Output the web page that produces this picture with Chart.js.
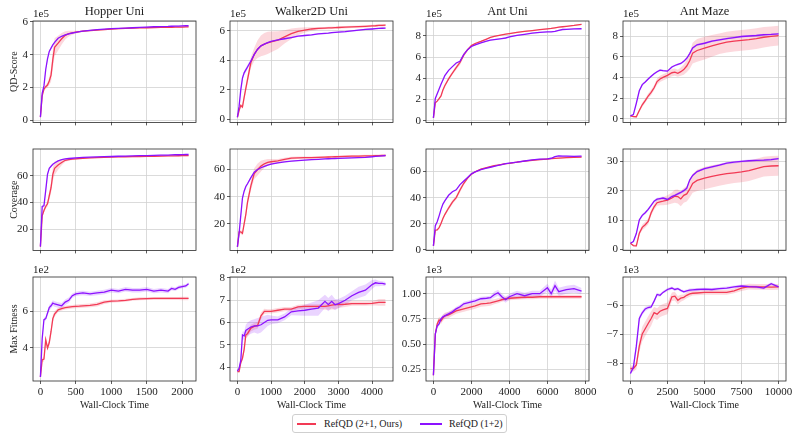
<!DOCTYPE html>
<html><head><meta charset="utf-8">
<script src="https://cdn.jsdelivr.net/npm/chart.js@4.4.0/dist/chart.umd.min.js"></script>
<style>
html,body{margin:0;padding:0;background:#fff;}
body{width:797px;height:436px;position:relative;overflow:hidden;font-family:"Liberation Serif","Times New Roman",serif;}
canvas{position:absolute;}
#legend{position:absolute;left:292px;top:414px;width:213px;height:17px;border:1px solid #cfcfcf;border-radius:3px;background:#fff;font-size:10px;color:#222;}
#legend .ln{position:absolute;top:8px;height:1.5px;}
#legend .tx{position:absolute;top:1px;line-height:15px;white-space:nowrap;}
</style></head><body>
<div id="legend">
  <span class="ln" style="left:4px;width:19px;background:#f23a55"></span>
  <span class="tx" style="left:31px">RefQD (2+1, Ours)</span>
  <span class="ln" style="left:127px;width:22px;background:#8c12ff"></span>
  <span class="tx" style="left:156px">RefQD (1+2)</span>
</div>
<script>
// ---------- Data ----------
const seriesNames = ['RefQD (2+1, Ours)', 'RefQD (1+2)'];
const envTitles = ['Hopper Uni', 'Walker2D Uni', 'Ant Uni', 'Ant Maze'];
const metricLabels = ['QD-Score', 'Coverage', 'Max Fitness'];
const offsetLabels = [['1e5','1e5','1e5','1e5'], [null,null,null,null], ['1e2','1e2','1e3','1e3']];

// Tick values
const xTicks = [[0,500,1000,1500,2000],[0,1000,2000,3000,4000],[0,2000,4000,6000,8000],[0,2500,5000,7500,10000]];
const yTicks = [
  [[0,2,4,6],[0,2,4,6],[0,2,4,6,8],[0,2,4,6,8]],
  [[20,40,60],[20,40,60],[0,20,40,60],[0,10,20,30]],
  [[4,6],[4,5,6,7,8],[0.25,0.5,0.75,1.0],[-8,-7,-6]]
];

// Hopper Uni
const hopperX = [0,25,50,75,100,125,150,175,200,250,300,350,400,450,500,550,600,700,800,900,1000,1100,1200,1300,1400,1500,1600,1700,1800,1850,1900,1950,2000,2050,2090];
const hopperQdRed = [0.2,1.5,1.9,2.05,2.15,2.4,2.75,3.7,4.45,4.7,4.97,5.18,5.28,5.33,5.37,5.4,5.43,5.47,5.5,5.53,5.56,5.58,5.6,5.62,5.63,5.64,5.65,5.66,5.67,5.67,5.68,5.68,5.68,5.69,5.69];
const hopperQdRedSd = [0,0.05,0.1,0.12,0.15,0.25,0.4,0.55,0.55,0.45,0.35,0.25,0.18,0.12,0.08,0.06,0.05,0.05,0.04,0.04,0.04,0.04,0.04,0.04,0.04,0.04,0.04,0.04,0.04,0.04,0.04,0.04,0.04,0.04,0.04];
const hopperQdPur = [0.2,1.65,2.1,3.1,3.75,4.2,4.4,4.6,4.75,5.0,5.12,5.2,5.27,5.32,5.36,5.4,5.43,5.48,5.52,5.55,5.58,5.6,5.62,5.64,5.66,5.68,5.7,5.71,5.72,5.73,5.74,5.74,5.75,5.76,5.76];
const hopperQdPurSd = [0,0.05,0.08,0.1,0.1,0.08,0.06,0.05,0.04,0.03,0.03,0.03,0.03,0.03,0.03,0.03,0.03,0.03,0.03,0.03,0.03,0.03,0.03,0.03,0.03,0.03,0.03,0.03,0.03,0.03,0.03,0.03,0.03,0.03,0.03];
const hopperCovRed = [7,30,34,37,39,45,51,61,65.5,68,69.8,71.5,72,72.3,72.6,72.8,73,73.3,73.5,73.7,73.9,74,74.1,74.2,74.3,74.4,74.5,74.6,74.7,74.75,74.8,74.85,74.9,74.95,75];
const hopperCovRedSd = [0,1,1.5,1.5,2,3,4,5,5,3.5,2,1.2,0.8,0.6,0.5,0.4,0.4,0.4,0.4,0.4,0.4,0.4,0.4,0.4,0.4,0.4,0.4,0.4,0.4,0.4,0.4,0.4,0.4,0.4,0.4];
const hopperCovPur = [7,37,37.5,49,61,65.5,67,68.5,69.5,71,72,72.5,72.8,73,73.2,73.4,73.6,73.8,74,74.2,74.3,74.5,74.6,74.8,74.9,75,75.2,75.3,75.4,75.5,75.6,75.6,75.7,75.8,75.8];
const hopperCovPurSd = [0,1,1,1,1,0.6,0.4,0.3,0.3,0.3,0.3,0.3,0.3,0.3,0.3,0.3,0.3,0.3,0.3,0.3,0.3,0.3,0.3,0.3,0.3,0.3,0.3,0.3,0.3,0.3,0.3,0.3,0.3,0.3,0.3];
const hopperFitRed = [2.42,3.35,3.4,4.45,4.0,4.3,4.9,5.6,5.85,6.08,6.15,6.2,6.23,6.25,6.27,6.28,6.3,6.32,6.38,6.5,6.55,6.57,6.6,6.65,6.68,6.69,6.7,6.7,6.7,6.7,6.7,6.7,6.7,6.7,6.7];
const hopperFitRedSd = [0,0.1,0.15,0.15,0.15,0.2,0.2,0.2,0.15,0.12,0.1,0.1,0.1,0.1,0.1,0.1,0.1,0.1,0.12,0.1,0.08,0.08,0.08,0.08,0.08,0.08,0.08,0.08,0.08,0.08,0.08,0.08,0.1,0.1,0.1];
const hopperFitPur = [2.42,4.5,5.55,5.6,5.9,6.2,6.3,6.45,6.4,6.35,6.3,6.5,6.6,6.85,6.95,6.98,7.0,6.95,7.0,7.05,7.15,7.1,7.2,7.15,7.15,7.2,7.1,7.15,7.1,7.25,7.2,7.3,7.35,7.38,7.5];
const hopperFitPurSd = [0,0.1,0.1,0.1,0.15,0.15,0.15,0.15,0.15,0.15,0.15,0.15,0.15,0.12,0.12,0.12,0.12,0.12,0.12,0.12,0.12,0.12,0.12,0.12,0.12,0.12,0.12,0.12,0.12,0.1,0.1,0.1,0.1,0.1,0.1];

// Walker2D Uni
const walkerX = [0,50,100,150,200,250,300,400,500,600,700,800,900,1000,1200,1400,1600,1800,2000,2200,2400,2600,2700,2800,2900,3000,3200,3400,3600,3800,4000,4100,4200,4300,4400];
const walkerQdRed = [0.15,0.6,0.95,0.85,1.5,2.1,2.7,3.85,4.4,4.75,4.98,5.1,5.18,5.25,5.37,5.58,5.8,5.96,6.05,6.12,6.16,6.18,6.19,6.2,6.21,6.22,6.24,6.26,6.28,6.3,6.33,6.34,6.36,6.37,6.38];
const walkerQdRedSd = [0,0.1,0.1,0.15,0.2,0.25,0.3,0.35,0.45,0.6,0.7,0.75,0.75,0.7,0.6,0.45,0.35,0.25,0.18,0.12,0.1,0.08,0.08,0.08,0.08,0.08,0.08,0.08,0.08,0.08,0.08,0.08,0.08,0.08,0.08];
const walkerQdPur = [0.15,0.9,2.0,2.8,3.15,3.35,3.55,3.95,4.4,4.75,4.98,5.1,5.2,5.28,5.38,5.46,5.54,5.63,5.68,5.72,5.79,5.82,5.84,5.87,5.89,5.91,5.94,5.99,6.04,6.09,6.12,6.14,6.16,6.17,6.18];
const walkerQdPurSd = [0,0.1,0.15,0.15,0.15,0.15,0.15,0.12,0.1,0.08,0.05,0.05,0.05,0.05,0.05,0.05,0.05,0.05,0.05,0.05,0.05,0.05,0.05,0.05,0.05,0.05,0.05,0.05,0.05,0.05,0.05,0.05,0.05,0.05,0.05];
const walkerCovRed = [3,14,14,13,20,27,36,48,57,60,62.5,64.2,65.2,65.7,66.3,67.5,68.4,68.6,68.7,68.8,69,69.1,69.2,69.3,69.4,69.5,69.7,69.8,69.9,70,70.1,70.2,70.2,70.3,70.3];
const walkerCovRedSd = [0,1,1.5,1.5,2,2.5,3,3.5,4,4.5,4,3,2.5,2,1.5,1.2,1,0.9,0.8,0.8,0.8,0.8,0.8,0.8,0.8,0.8,0.8,0.8,0.8,0.8,0.8,0.8,0.8,0.8,0.8];
const walkerCovPur = [3,13,26,39,44,47.5,49.5,54,58,60,61.3,62.3,63.2,64,64.9,65.6,66.1,66.6,66.9,67.2,67.5,67.8,67.9,68,68.1,68.2,68.4,68.6,68.8,69,69.4,69.7,69.9,70.1,70.3];
const walkerCovPurSd = [0,1,1.5,1.5,1,1,1,0.8,0.6,0.5,0.4,0.4,0.4,0.4,0.4,0.4,0.4,0.4,0.4,0.4,0.4,0.4,0.4,0.4,0.4,0.4,0.4,0.4,0.4,0.4,0.4,0.4,0.4,0.4,0.4];
const walkerFitRed = [3.8,3.8,4.2,4.4,4.8,5.45,5.5,5.75,5.83,5.87,6.3,6.5,6.5,6.5,6.55,6.6,6.6,6.7,6.72,6.72,6.72,6.72,6.75,6.78,6.8,6.8,6.82,6.85,6.85,6.85,6.86,6.88,6.9,6.9,6.9];
const walkerFitRedSd = [0,0.05,0.1,0.1,0.15,0.15,0.15,0.15,0.15,0.15,0.15,0.12,0.1,0.1,0.1,0.1,0.1,0.1,0.1,0.1,0.1,0.15,0.18,0.2,0.2,0.15,0.12,0.1,0.1,0.1,0.1,0.12,0.15,0.15,0.15];
const walkerFitPur = [3.82,3.95,4.3,5.45,5.4,5.65,5.7,5.8,5.85,5.85,5.9,6.0,6.1,6.12,6.12,6.25,6.48,6.52,6.55,6.6,6.65,6.95,6.8,6.95,6.8,6.85,7.0,7.2,7.35,7.45,7.7,7.78,7.75,7.75,7.72];
const walkerFitPurSd = [0,0.05,0.1,0.15,0.2,0.25,0.3,0.3,0.3,0.35,0.35,0.3,0.25,0.2,0.15,0.15,0.15,0.2,0.25,0.3,0.35,0.3,0.3,0.3,0.25,0.2,0.2,0.2,0.25,0.25,0.2,0.15,0.12,0.1,0.1];

// Ant Uni
const antX = [0,100,200,300,400,500,600,800,1000,1200,1400,1600,1800,2000,2200,2500,2800,3000,3200,3400,3600,3800,4000,4400,4800,5200,5600,6000,6200,6400,6600,6800,7000,7400,7800];
const antQdRed = [0.28,1.7,1.85,2.1,2.35,2.9,3.3,3.95,4.5,5.0,5.5,6.2,6.7,7.08,7.28,7.48,7.7,7.85,7.95,8.03,8.1,8.16,8.22,8.33,8.43,8.5,8.58,8.66,8.7,8.76,8.82,8.86,8.9,8.98,9.08];
const antQdRedSd = [0,0.05,0.05,0.08,0.1,0.12,0.15,0.15,0.15,0.2,0.25,0.2,0.12,0.08,0.06,0.05,0.05,0.05,0.05,0.05,0.05,0.05,0.05,0.05,0.05,0.05,0.05,0.05,0.05,0.05,0.05,0.05,0.05,0.05,0.05];
const antQdPur = [0.28,2.1,2.55,3.0,3.45,3.85,4.25,4.75,5.1,5.45,5.6,6.25,6.7,7.0,7.15,7.35,7.5,7.6,7.65,7.7,7.75,7.8,7.9,8.05,8.15,8.25,8.32,8.38,8.38,8.42,8.52,8.6,8.62,8.65,8.67];
const antQdPurSd = [0,0.05,0.05,0.05,0.05,0.05,0.05,0.05,0.05,0.05,0.05,0.05,0.05,0.05,0.05,0.05,0.05,0.05,0.05,0.05,0.05,0.05,0.05,0.05,0.05,0.05,0.05,0.05,0.05,0.05,0.05,0.05,0.05,0.05,0.05];
const antCovRed = [3,15,15.3,17,20.2,24,27,32,36.5,40,45.8,51,55,58,59.8,61.8,63,63.8,64.5,65,65.5,66,66.3,67.2,68,68.6,69.1,69.6,69.9,70.1,70.3,70.5,70.7,70.9,71.1];
const antCovRedSd = [0,0.5,0.5,0.8,1,1,1.2,1.5,1.5,1.5,1.8,1.5,1,0.8,0.6,0.5,0.5,0.5,0.5,0.5,0.5,0.5,0.5,0.5,0.5,0.5,0.5,0.5,0.5,0.5,0.5,0.5,0.5,0.5,0.5];
const antCovPur = [3,18.5,21.5,26,31,35,37.5,41.8,44.5,46,50,52.8,55.5,58.2,59.8,61.5,62.6,63.3,64,64.7,65.3,66,66.5,67.2,68.1,69,69.6,69.8,70.2,71.4,72,71.8,71.8,71.6,71.9];
const antCovPurSd = [0,0.4,0.4,0.4,0.4,0.4,0.4,0.4,0.4,0.4,0.4,0.4,0.4,0.4,0.4,0.4,0.4,0.4,0.4,0.4,0.4,0.4,0.4,0.4,0.4,0.4,0.4,0.4,0.4,0.5,0.5,0.5,0.5,0.5,0.5];
const antFitRed = [0.19,0.6,0.7,0.74,0.73,0.76,0.78,0.79,0.81,0.83,0.84,0.85,0.86,0.87,0.88,0.9,0.905,0.91,0.92,0.93,0.94,0.95,0.955,0.96,0.965,0.965,0.97,0.97,0.97,0.97,0.97,0.97,0.97,0.97,0.97];
const antFitRedSd = [0,0.02,0.03,0.03,0.03,0.03,0.03,0.03,0.03,0.03,0.03,0.03,0.03,0.03,0.03,0.03,0.03,0.03,0.025,0.025,0.02,0.02,0.02,0.02,0.02,0.02,0.02,0.02,0.02,0.02,0.02,0.02,0.02,0.02,0.02];
const antFitPur = [0.19,0.6,0.68,0.7,0.75,0.77,0.78,0.8,0.82,0.85,0.87,0.9,0.91,0.92,0.93,0.95,0.955,0.96,0.99,1.01,0.97,0.94,0.97,1.0,0.98,1.0,1.0,1.06,1.0,1.08,1.02,1.03,1.04,1.05,1.026];
const antFitPurSd = [0,0.02,0.02,0.02,0.02,0.02,0.02,0.02,0.02,0.02,0.02,0.02,0.02,0.02,0.02,0.02,0.02,0.02,0.03,0.03,0.03,0.03,0.03,0.03,0.03,0.03,0.03,0.04,0.04,0.05,0.04,0.04,0.04,0.04,0.03];

// Ant Maze
const mazeX = [0,200,400,600,800,1000,1200,1400,1600,1800,2000,2200,2500,2800,3000,3200,3400,3600,3800,4000,4200,4500,5000,5500,6000,6500,7000,7500,8000,8500,9000,9500,10000];
const mazeQdRed = [0.28,0.22,0.2,0.8,1.35,1.75,2.2,2.55,3.0,3.6,3.85,4.0,4.2,4.45,4.5,4.4,4.55,4.75,5.1,5.6,6.35,6.6,6.83,7.05,7.25,7.4,7.5,7.58,7.65,7.75,7.88,7.97,8.03];
const mazeQdRedSd = [0,0.05,0.1,0.15,0.2,0.2,0.25,0.25,0.25,0.3,0.3,0.3,0.3,0.35,0.35,0.35,0.4,0.5,0.6,0.8,1.0,1.1,1.1,1.05,1.0,1.0,1.0,1.0,1.0,1.0,1.0,0.95,0.95];
const mazeQdPur = [0.28,0.4,1.5,2.7,3.3,3.55,3.85,4.1,4.35,4.55,4.7,4.65,4.6,5.0,5.15,5.25,5.35,5.55,5.85,6.3,6.85,7.15,7.3,7.5,7.62,7.75,7.85,7.95,8.0,8.05,8.12,8.15,8.2];
const mazeQdPurSd = [0,0.05,0.1,0.1,0.1,0.1,0.1,0.1,0.1,0.1,0.1,0.1,0.1,0.1,0.1,0.1,0.1,0.1,0.1,0.1,0.1,0.1,0.1,0.1,0.1,0.1,0.1,0.1,0.1,0.1,0.1,0.1,0.1];
const mazeCovRed = [2.1,1.3,1.2,5.5,7.5,8.4,9.5,12.5,14.5,15.9,16.2,16.4,16.8,17.5,18.1,18.0,17.2,18.4,18.9,20.5,22.5,23.5,24.3,24.9,25.4,25.8,26.1,26.4,26.8,27.5,28.2,28.4,28.5];
const mazeCovRedSd = [0,0.3,0.5,0.8,1,1,1,1,1,1,1.2,1.4,1.6,1.9,2.2,2.4,2.5,2.5,2.6,2.8,3.2,3.6,3.8,3.8,3.7,3.6,3.5,3.5,3.5,3.4,3.4,3.4,3.4];
const mazeCovPur = [2.1,2.7,5.4,10.0,11.6,12.5,13.6,15.0,16.4,17.1,17.3,17.5,17.0,18.0,18.4,18.9,19.4,20.0,20.8,23.6,25.2,26.5,27.5,28.1,28.7,29.4,29.7,30.0,30.2,30.3,30.4,30.6,30.9];
const mazeCovPurSd = [0,0.3,0.5,0.5,0.5,0.5,0.5,0.5,0.5,0.5,0.5,0.5,0.5,0.5,0.5,0.5,0.5,0.5,0.5,0.4,0.4,0.4,0.4,0.4,0.4,0.4,0.4,0.4,0.4,0.4,0.4,0.4,0.4];
const mazeFitRed = [-8.17,-8.17,-8.05,-7.4,-6.98,-6.8,-6.62,-6.45,-6.25,-6.3,-6.2,-6.15,-6.1,-5.7,-5.68,-5.82,-5.75,-5.72,-5.65,-5.6,-5.58,-5.57,-5.55,-5.55,-5.55,-5.55,-5.5,-5.4,-5.35,-5.36,-5.36,-5.37,-5.36];
const mazeFitRedSd = [0.1,0.1,0.15,0.2,0.25,0.25,0.25,0.25,0.2,0.2,0.2,0.2,0.2,0.15,0.15,0.15,0.12,0.1,0.1,0.1,0.08,0.08,0.08,0.08,0.08,0.08,0.08,0.1,0.1,0.1,0.1,0.1,0.1];
const mazeFitPur = [-8.34,-8.13,-7.4,-6.45,-6.25,-6.12,-6.07,-6.05,-5.85,-5.62,-5.65,-5.55,-5.45,-5.4,-5.45,-5.42,-5.48,-5.53,-5.5,-5.47,-5.46,-5.45,-5.44,-5.45,-5.42,-5.4,-5.36,-5.33,-5.35,-5.36,-5.4,-5.25,-5.36];
const mazeFitPurSd = [0.05,0.1,0.15,0.1,0.08,0.08,0.06,0.06,0.06,0.06,0.05,0.05,0.05,0.05,0.05,0.05,0.05,0.05,0.05,0.05,0.05,0.05,0.05,0.05,0.05,0.05,0.05,0.05,0.05,0.05,0.05,0.05,0.05];

// ---------- Rendering ----------
const RED = '#f23a55', PUR = '#8c12ff';
const RED_BAND = 'rgba(242,58,85,0.2)', PUR_BAND = 'rgba(140,18,255,0.18)';
const COL_LEFT = [33, 230, 426, 623], BOX_W = 163;
const ROW_TOP = [21, 149, 277], BOX_H = 104;
const xRanges = [[-104.5, 2194.5], [-220, 4620], [-390, 8190], [-500, 10500]];
const yRanges = [
  [[-0.12, 6.05], [-0.2, 6.66], [-0.15, 9.4], [-0.35, 9.45]],
  [[4.2, 79.9], [0.4, 75.1], [-0.5, 77.3], [-0.35, 34.2]],
  [[2.2, 7.87], [3.38, 8.04], [0.133, 1.166], [-8.6, -5.02]]
];
const envData = [
  {x: hopperX, m: [[hopperQdRed,hopperQdRedSd,hopperQdPur,hopperQdPurSd],[hopperCovRed,hopperCovRedSd,hopperCovPur,hopperCovPurSd],[hopperFitRed,hopperFitRedSd,hopperFitPur,hopperFitPurSd]]},
  {x: walkerX, m: [[walkerQdRed,walkerQdRedSd,walkerQdPur,walkerQdPurSd],[walkerCovRed,walkerCovRedSd,walkerCovPur,walkerCovPurSd],[walkerFitRed,walkerFitRedSd,walkerFitPur,walkerFitPurSd]]},
  {x: antX, m: [[antQdRed,antQdRedSd,antQdPur,antQdPurSd],[antCovRed,antCovRedSd,antCovPur,antCovPurSd],[antFitRed,antFitRedSd,antFitPur,antFitPurSd]]},
  {x: mazeX, m: [[mazeQdRed,mazeQdRedSd,mazeQdPur,mazeQdPurSd],[mazeCovRed,mazeCovRedSd,mazeCovPur,mazeCovPurSd],[mazeFitRed,mazeFitRedSd,mazeFitPur,mazeFitPurSd]]}
];

Chart.defaults.font.family = '"Liberation Serif", "Times New Roman", serif';
Chart.defaults.color = '#222';

const framePlugin = {
  id: 'frame',
  afterDraw(chart, args, opts) {
    const {ctx, chartArea: a} = chart;
    ctx.save();
    ctx.strokeStyle = '#2a2a2a';
    ctx.lineWidth = 0.8;
    ctx.strokeRect(a.left, a.top, a.right - a.left, a.bottom - a.top);
    ctx.fillStyle = '#222';
    if (opts.offset) {
      ctx.font = '11px "Liberation Serif", serif';
      ctx.textAlign = 'left';
      ctx.textBaseline = 'bottom';
      ctx.fillText(opts.offset, a.left, a.top - 1);
    }
    if (opts.title) {
      ctx.font = '12.5px "Liberation Serif", serif';
      ctx.textAlign = 'center';
      ctx.textBaseline = 'middle';
      ctx.fillText(opts.title, (a.left + a.right) / 2, a.top - 9);
    }
    ctx.restore();
  }
};

function pts(xs, ys) { return xs.map((x, i) => ({x: x, y: ys[i]})); }
function shifted(xs, ys, sd, sign) { return xs.map((x, i) => ({x: x, y: ys[i] + sign * sd[i]})); }
function fmt(row, col) {
  return function (v) {
    let s = (row === 2 && col === 2) ? Number(v).toFixed(2) : String(Math.round(v));
    return s.replace('-', '\u2212');
  };
}

function makePanel(col, row) {
  const padL = 34, padT = 22, padR = 12;
  const bottomH = row === 2 ? 34 : 6;
  const W = padL + BOX_W + padR, H = padT + BOX_H + bottomH;
  const cv = document.createElement('canvas');
  cv.width = W; cv.height = H;
  cv.style.left = (COL_LEFT[col] - padL) + 'px';
  cv.style.top = (ROW_TOP[row] - padT) + 'px';
  cv.style.width = W + 'px'; cv.style.height = H + 'px';
  document.body.appendChild(cv);
  const env = envData[col];
  const [red, redSd, pur, purSd] = env.m[row];
  const xs = env.x;
  const lineDs = (data, color) => ({data, borderColor: color, borderWidth: 1.3, pointRadius: 0, fill: false, tension: 0});
  const bandDs = (data, color, fill) => ({data, borderWidth: 0, borderColor: 'rgba(0,0,0,0)', backgroundColor: color, pointRadius: 0, fill: fill, tension: 0});
  const gridOpts = {color: '#d2d2d2', lineWidth: 0.8, drawTicks: true, tickLength: 3, tickColor: '#333', tickWidth: 0.8};
  new Chart(cv, {
    type: 'line',
    data: {
      datasets: [
        Object.assign(lineDs(pts(xs, pur), PUR), {label: seriesNames[1]}),
        Object.assign(lineDs(pts(xs, red), RED), {label: seriesNames[0]}),
        bandDs(shifted(xs, pur, purSd, 1), PUR_BAND, '+1'),
        bandDs(shifted(xs, pur, purSd, -1), PUR_BAND, false),
        bandDs(shifted(xs, red, redSd, 1), RED_BAND, '+1'),
        bandDs(shifted(xs, red, redSd, -1), RED_BAND, false)
      ]
    },
    options: {
      responsive: false,
      animation: false,
      devicePixelRatio: 1,
      layout: {padding: {left: 0, top: padT, right: padR, bottom: 0}},
      plugins: {
        legend: {display: false},
        tooltip: {enabled: false},
        frame: {title: row === 0 ? envTitles[col] : null, offset: offsetLabels[row][col]}
      },
      scales: {
        x: {
          type: 'linear',
          min: xRanges[col][0], max: xRanges[col][1],
          border: {display: false},
          grid: gridOpts,
          ticks: {display: row === 2, autoSkip: false, maxRotation: 0, padding: 2, font: {size: 11}, color: '#222', callback: v => String(v)},
          afterBuildTicks: s => { s.ticks = xTicks[col].map(v => ({value: v})); },
          title: {display: row === 2, text: 'Wall-Clock Time', font: {size: 10}, color: '#222', padding: {top: 0, bottom: 4}},
          afterFit: s => { s.height = bottomH; }
        },
        y: {
          type: 'linear',
          min: yRanges[row][col][0], max: yRanges[row][col][1],
          border: {display: false},
          grid: gridOpts,
          ticks: {autoSkip: false, padding: 2, font: {size: 11}, color: '#222', callback: fmt(row, col)},
          afterBuildTicks: s => { s.ticks = yTicks[row][col].map(v => ({value: v})); },
          title: {display: col === 0, text: metricLabels[row], font: {size: 10}, color: '#222', padding: {top: 9, bottom: 0}},
          afterFit: s => { s.width = padL; }
        }
      }
    },
    plugins: [framePlugin]
  });
}

for (let r = 0; r < 3; r++) for (let c = 0; c < 4; c++) makePanel(c, r);
</script>
</body></html>
